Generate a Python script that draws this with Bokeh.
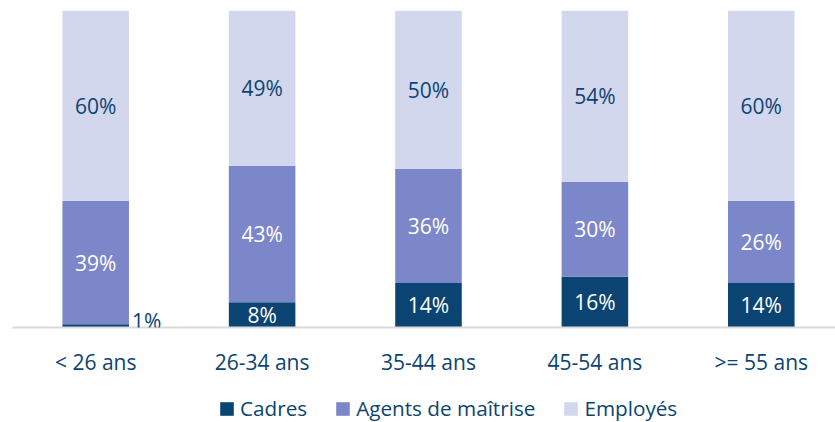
from bokeh.plotting import figure
from bokeh.models import ColumnDataSource, Range1d, FixedTicker, Legend, LegendItem, LabelSet
from bokeh.layouts import column
from bokeh.core.properties import value
from bokeh.embed import file_html
from bokeh.resources import INLINE

categories = ["< 26 ans", "26-34 ans", "35-44 ans", "45-54 ans", ">= 55 ans"]
cadres = [1, 8, 14, 16, 14]
agents = [39, 43, 36, 30, 26]
employes = [60, 49, 50, 54, 60]

series_names = ["Cadres", "Agents de maîtrise", "Employés"]
series_keys = ["cadres", "agents", "employes"]
colors = ["#0B4472", "#7B87C9", "#D3D7ED"]
text_dark = "#0B4472"
font = "Open Sans"

xs = [i + 0.5 for i in range(len(categories))]
src = ColumnDataSource(dict(x=xs, cadres=cadres, agents=agents, employes=employes))

p = figure(width=835, height=378, output_backend="svg", toolbar_location=None,
           x_range=Range1d(0, 4.946), y_range=Range1d(0, 100),
           min_border_left=12, min_border_right=0, min_border_top=10, min_border_bottom=50)
p.outline_line_color = None
p.grid.visible = False
p.yaxis.visible = False
p.background_fill_color = "white"

renderers = p.vbar_stack(series_keys, x="x", width=0.40, source=src, color=colors, line_color=None)

# labels
lx, ly, lt, lc, lalign, loff = [], [], [], [], [], []
for i, x in enumerate(xs):
    base = 0
    for k, vals in enumerate([cadres, agents, employes]):
        v = vals[i]
        if v < 3:
            lx.append(x + 0.20); ly.append(base + v / 2 + 1.5); lt.append(f"{v}%")
            lc.append(text_dark); lalign.append("left"); loff.append(3)
        else:
            lx.append(x); ly.append(base + v / 2); lt.append(f"{v}%")
            lc.append(text_dark if k == 2 else "white"); lalign.append("center"); loff.append(0)
        base += v
lsrc = ColumnDataSource(dict(x=lx, y=ly, t=lt, c=lc, a=lalign, o=loff))
labels = LabelSet(x="x", y="y", text="t", source=lsrc, text_color="c", text_align="a",
                  x_offset="o", text_baseline="middle", text_font=value(font),
                  text_font_size=value("21px"))
p.add_layout(labels)

ax = p.xaxis[0]
ax.ticker = FixedTicker(ticks=xs)
ax.major_label_overrides = {x: c for x, c in zip(xs, categories)}
ax.axis_line_color = "#D9D9D9"
ax.axis_line_width = 2
ax.major_tick_line_color = None
ax.minor_tick_line_color = None
ax.major_label_text_font = font
ax.major_label_text_font_size = "21px"
ax.major_label_text_color = text_dark
ax.major_label_standoff = 14

# legend strip below the chart (hidden proxies of the same series)
pl = figure(width=835, height=44, output_backend="svg", toolbar_location=None,
            x_range=Range1d(0, 1), y_range=Range1d(0, 1), min_border=0)
pl.outline_line_color = None
pl.grid.visible = False
pl.axis.visible = False
leg_renderers = []
for key, c in zip(series_keys, colors):
    r = pl.vbar(x="x", top=key, width=0.4, source=src, fill_color=c, line_color=None)
    r.visible = False
    leg_renderers.append(r)
legend = Legend(items=[LegendItem(label=n, renderers=[r]) for n, r in zip(series_names, leg_renderers)],
                orientation="horizontal", location=(206, 0),
                label_text_font=font, label_text_font_size="20.7px", label_text_color=text_dark,
                glyph_width=17, glyph_height=17, label_standoff=5, spacing=27,
                inactive_fill_alpha=0,
                border_line_color=None, background_fill_alpha=0, padding=0, margin=0)
pl.add_layout(legend)

layout = column(p, pl, spacing=0)
open("out.html", "w").write(file_html(layout, INLINE))
